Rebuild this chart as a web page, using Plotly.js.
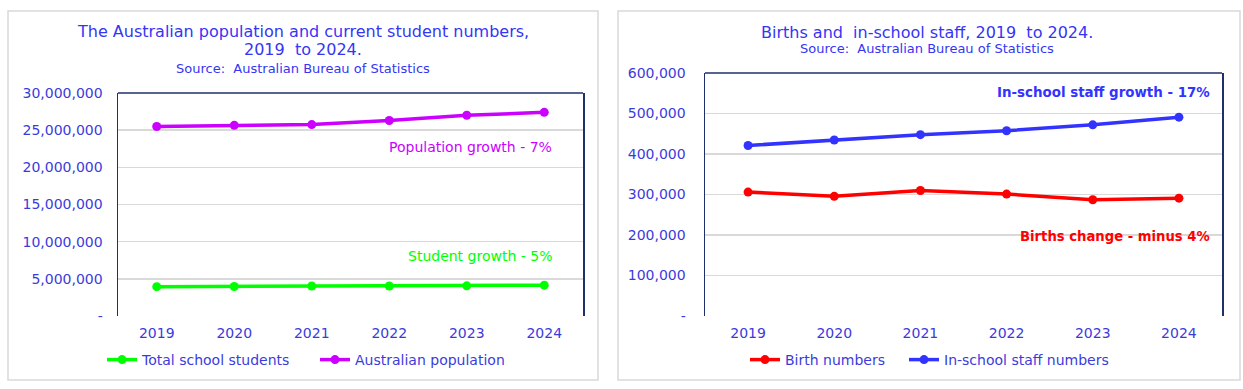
<!DOCTYPE html>
<html><head><meta charset="utf-8">
<script src="https://cdn.plot.ly/plotly-3.0.1.min.js"></script>
<style>body{margin:0;background:#fff}#chart{width:1243px;height:389px}</style>
</head><body><div id="chart"></div>
<script>
const years = ['2019', '2020', '2021', '2022', '2023', '2024'];
const schoolStudents = [3950000, 3970000, 4030000, 4040000, 4060000, 4150000];
const population = [25500000, 25650000, 25750000, 26300000, 27000000, 27400000];
const births = [306000, 295500, 310000, 301000, 287000, 291000];
const staff = [421000, 434600, 447700, 457500, 472000, 491000];
const leftTickVals = [0, 5000000, 10000000, 15000000, 20000000, 25000000, 30000000];
const leftTickText = ['-', '5,000,000', '10,000,000', '15,000,000', '20,000,000', '25,000,000', '30,000,000'];
const rightTickVals = [0, 100000, 200000, 300000, 400000, 500000, 600000];
const rightTickText = ['-', '100,000', '200,000', '300,000', '400,000', '500,000', '600,000'];

const W = 1243, H = 389;
const px = x => x / W;
const py = y => 1 - y / H;
const FONT = 'DejaVu Sans, Verdana, sans-serif';
const BLUE = '#3535f5';
const TICK = '#3b3bdc';
const NAVY = '#1f2f6b';
const GRID = '#d9d9d9';

const GREEN = '#00ff00', MAGENTA = '#cc00ff', RED = '#ff0000', SBLUE = '#3333ff';

function tr(y, name, color, xa, ya, legend) {
  return {x: years, y: y, name: name, type: 'scatter', mode: 'lines+markers',
    line: {color: color, width: 3.5}, marker: {color: color, size: 9},
    xaxis: xa, yaxis: ya, legend: legend, showlegend: true, hoverinfo: 'x+y'};
}

const data = [
  tr(schoolStudents, 'Total school students', GREEN, 'x', 'y', 'legend'),
  tr(population, 'Australian population', MAGENTA, 'x', 'y', 'legend2'),
  tr(births, 'Birth numbers', RED, 'x2', 'y2', 'legend3'),
  tr(staff, 'In-school staff numbers', SBLUE, 'x2', 'y2', 'legend4')
];

const xCommon = {type: 'category', range: [-0.5, 5.5], showgrid: false, zeroline: false,
  showline: false, ticks: '', ticklabelstandoff: 7,
  tickfont: {family: FONT, size: 14, color: TICK}, fixedrange: true};
const yCommon = {showgrid: true, gridcolor: GRID, gridwidth: 1.5, zeroline: false,
  showline: true, mirror: true, linecolor: NAVY, linewidth: 1.5, ticks: '',
  tickfont: {family: FONT, size: 14, color: TICK}, fixedrange: true};

function leg(xpix) {
  return {orientation: 'h', x: px(xpix), xanchor: 'left', y: py(360), yanchor: 'middle',
    font: {family: FONT, size: 14, color: TICK}, bgcolor: 'rgba(0,0,0,0)', itemwidth: 30,
    visible: true};
}

const layout = {
  width: W, height: H,
  margin: {l: 0, r: 0, t: 0, b: 0},
  paper_bgcolor: '#fff', plot_bgcolor: '#fff',
  font: {family: FONT, color: BLUE},
  showlegend: true,
  xaxis: Object.assign({}, xCommon, {domain: [px(118), px(583)], anchor: 'y'}),
  yaxis: Object.assign({}, yCommon, {domain: [py(316), py(93)], anchor: 'x', range: [0, 30000000],
    tickvals: leftTickVals, ticktext: leftTickText, ticklabelstandoff: 11}),
  xaxis2: Object.assign({}, xCommon, {domain: [px(705), px(1222)], anchor: 'y2'}),
  yaxis2: Object.assign({}, yCommon, {domain: [py(316), py(73)], anchor: 'x2', range: [0, 600000],
    tickvals: rightTickVals, ticktext: rightTickText, ticklabelstandoff: 15}),
  legend: leg(102),
  legend2: leg(315),
  legend3: leg(745),
  legend4: leg(904),
  shapes: [
    {type: 'rect', xref: 'paper', yref: 'paper', x0: px(8), x1: px(598), y0: py(380), y1: py(11),
      line: {color: GRID, width: 1.5}, layer: 'below'},
    {type: 'rect', xref: 'paper', yref: 'paper', x0: px(618), x1: px(1240), y0: py(380), y1: py(11),
      line: {color: GRID, width: 1.5}, layer: 'below'},
    {type: 'line', xref: 'x domain', yref: 'y domain', x0: 0, x1: 1, y0: 1, y1: 1,
      line: {color: NAVY, width: 1.5}},
    {type: 'line', xref: 'x2 domain', yref: 'y2 domain', x0: 0, x1: 1, y0: 1, y1: 1,
      line: {color: NAVY, width: 1.5}}
  ],
  annotations: [
    {text: 'The Australian population and current student numbers,', x: px(303), y: py(31),
      xref: 'paper', yref: 'paper', showarrow: false, xanchor: 'center', yanchor: 'middle',
      font: {family: FONT, size: 16, color: BLUE}},
    {text: '2019  to 2024.', x: px(303), y: py(50),
      xref: 'paper', yref: 'paper', showarrow: false, xanchor: 'center', yanchor: 'middle',
      font: {family: FONT, size: 16, color: BLUE}},
    {text: 'Source:  Australian Bureau of Statistics', x: px(303), y: py(69),
      xref: 'paper', yref: 'paper', showarrow: false, xanchor: 'center', yanchor: 'middle',
      font: {family: FONT, size: 13, color: BLUE}},
    {text: 'Births and  in-school staff, 2019  to 2024.', x: px(927), y: py(32),
      xref: 'paper', yref: 'paper', showarrow: false, xanchor: 'center', yanchor: 'middle',
      font: {family: FONT, size: 16, color: BLUE}},
    {text: 'Source:  Australian Bureau of Statistics', x: px(927), y: py(48),
      xref: 'paper', yref: 'paper', showarrow: false, xanchor: 'center', yanchor: 'middle',
      font: {family: FONT, size: 13, color: BLUE}},
    {text: 'Population growth - 7%', x: px(554), y: py(147),
      xref: 'paper', yref: 'paper', showarrow: false, xanchor: 'right', yanchor: 'middle',
      font: {family: FONT, size: 14, color: MAGENTA}},
    {text: 'Student growth - 5%', x: px(554), y: py(256),
      xref: 'paper', yref: 'paper', showarrow: false, xanchor: 'right', yanchor: 'middle',
      font: {family: FONT, size: 14, color: GREEN}},
    {text: '<b>In-school staff growth - 17%</b>', x: px(1212), y: py(92),
      xref: 'paper', yref: 'paper', showarrow: false, xanchor: 'right', yanchor: 'middle',
      font: {family: FONT, size: 13.4, color: SBLUE}},
    {text: '<b>Births change - minus 4%</b>', x: px(1212), y: py(236),
      xref: 'paper', yref: 'paper', showarrow: false, xanchor: 'right', yanchor: 'middle',
      font: {family: FONT, size: 13.2, color: RED}}
  ],
  hovermode: 'closest'
};

Plotly.newPlot('chart', data, layout, {displayModeBar: false, staticPlot: true});
</script>
</body></html>
